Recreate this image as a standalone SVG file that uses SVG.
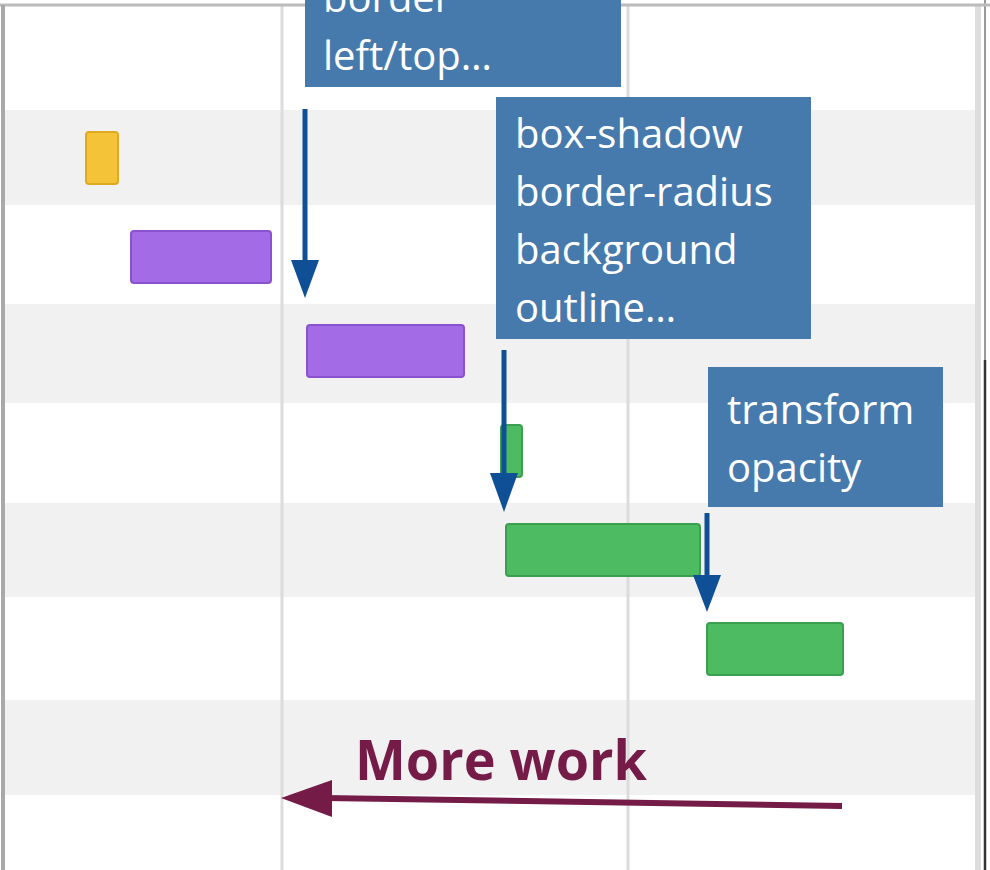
<svg xmlns="http://www.w3.org/2000/svg" width="990" height="870" viewBox="0 0 990 870">
<defs>
<style>
.stripe{fill:#f1f1f1}
.grid{stroke:#dcdcdc;stroke-width:3}
.bar{stroke-width:2}
.yel{fill:#f5c338;stroke:#ddaa22}
.pur{fill:#a46be6;stroke:#8a52cf}
.grn{fill:#4dbb62;stroke:#3c9f50}
.note{fill:#467aad}
.nt{font-family:"Open Sans","Liberation Sans",sans-serif;font-size:40px;fill:#ffffff}
.blue{stroke:#0e4f96;stroke-width:5;fill:none}
.maroon{stroke:#741c47;stroke-width:6;fill:none}
.mw{font-family:"Open Sans","Liberation Sans",sans-serif;font-weight:bold;font-size:56px;fill:#741c47}
</style>
<marker id="ab" markerUnits="userSpaceOnUse" markerWidth="30" markerHeight="40" refX="14" refY="38" orient="auto" viewBox="0 0 28 40">
<path d="M0,0 L28,0 L14,38 Z" fill="#0e4f96" transform="rotate(-90 14 19)"/>
</marker>
</defs>
<rect x="0" y="0" width="990" height="870" fill="#ffffff"/>
<g id="background">
<rect class="stripe" x="4" y="110" width="972" height="95"/>
<rect class="stripe" x="4" y="304" width="972" height="99"/>
<rect class="stripe" x="4" y="503" width="972" height="94"/>
<rect class="stripe" x="4" y="700" width="972" height="95"/>
<line class="grid" x1="282" y1="6" x2="282" y2="870"/>
<line class="grid" x1="628" y1="6" x2="628" y2="870"/>
<line x1="978" y1="6" x2="978" y2="870" stroke="#dddddd" stroke-width="6"/>
<line x1="985" y1="0" x2="985" y2="360" stroke="#999999" stroke-width="2"/>
<line x1="985" y1="360" x2="985" y2="870" stroke="#333333" stroke-width="2.5"/>
<line x1="0" y1="5" x2="990" y2="5" stroke="#bbbbbb" stroke-width="3"/>
<line x1="3" y1="5" x2="3" y2="870" stroke="#a9a9ab" stroke-width="4"/>
</g>
<g id="bar-yellow"><rect class="bar yel" x="86" y="132" width="32" height="52" rx="3"/></g>
<g id="bar-purple-1"><rect class="bar pur" x="131" y="231" width="140" height="52" rx="3"/></g>
<g id="bar-purple-2"><rect class="bar pur" x="307" y="325" width="157" height="52" rx="3"/></g>
<g id="bar-green-1"><rect class="bar grn" x="501" y="425" width="21" height="52" rx="3"/></g>
<g id="bar-green-2"><rect class="bar grn" x="506" y="524" width="194" height="52" rx="3"/></g>
<g id="bar-green-3"><rect class="bar grn" x="707" y="623" width="136" height="52" rx="3"/></g>
<g id="connectors">
<line class="blue" x1="305" y1="109" x2="305" y2="262"/>
<path d="M291,260 L319,260 L305,298 Z" fill="#0e4f96"/>
<line class="blue" x1="504" y1="350" x2="504" y2="475"/>
<path d="M490,473 L518,473 L504,512 Z" fill="#0e4f96"/>
<line class="blue" x1="707" y1="513" x2="707" y2="577"/>
<path d="M693,575 L721,575 L707,612 Z" fill="#0e4f96"/>
<line class="maroon" x1="842" y1="806" x2="325" y2="798"/>
<path d="M281,798 L332,780 L332,817 Z" fill="#741c47"/>
</g>
<g id="note-border">
<rect class="note" x="305" y="0" width="316" height="87"/>
<text class="nt" x="323" y="12">border</text>
<text class="nt" x="323" y="70">left/top…</text>
</g>
<g id="note-paint">
<rect class="note" x="496" y="97" width="315" height="242"/>
<text class="nt" x="515" y="148">box-shadow</text>
<text class="nt" x="515" y="206">border-radius</text>
<text class="nt" x="515" y="264">background</text>
<text class="nt" x="515" y="322">outline…</text>
</g>
<g id="note-composite">
<rect class="note" x="708" y="367" width="235" height="140"/>
<text class="nt" x="727" y="424">transform</text>
<text class="nt" x="727" y="482">opacity</text>
</g>
<g id="label-more-work">
<text class="mw" x="355" y="780" textLength="292" lengthAdjust="spacingAndGlyphs">More work</text>
</g>
</svg>
